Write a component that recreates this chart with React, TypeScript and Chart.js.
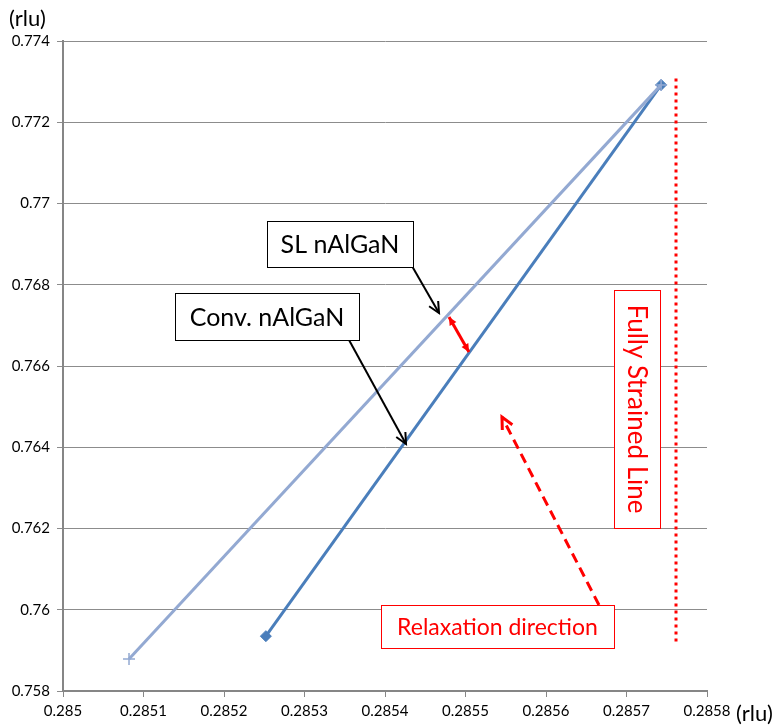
import React, { useEffect, useRef } from "react";
import { Chart, registerables } from "chart.js";

Chart.register(...registerables);

// ---- data ----
const xTickLabels = ["0.285", "0.2851", "0.2852", "0.2853", "0.2854", "0.2855", "0.2856", "0.2857", "0.2858"];
const yTickLabels = ["0.758", "0.76", "0.762", "0.764", "0.766", "0.768", "0.77", "0.772", "0.774"];

const slX = [0.285082, 0.285743];
const slY = [0.75879, 0.77292];

const convX = [0.285252, 0.285743];
const convY = [0.75935, 0.77292];

const strainedX = [0.2857615, 0.2857615];
const strainedY = [0.77308, 0.75913];

const X_MIN = 0.285;
const X_MAX = 0.2858;
const Y_MIN = 0.758;
const Y_MAX = 0.774;

const FONT = "Lato, 'Open Sans', sans-serif";

function toPts(xs: number[], ys: number[]) {
  return xs.map((x, i) => ({ x, y: ys[i] }));
}

function arrowHead(ctx: CanvasRenderingContext2D, x1: number, y1: number, x2: number, y2: number, size: number, filled: boolean) {
  const a = Math.atan2(y2 - y1, x2 - x1);
  const sp = Math.PI / 7;
  ctx.beginPath();
  ctx.moveTo(x2 - size * Math.cos(a - sp), y2 - size * Math.sin(a - sp));
  ctx.lineTo(x2, y2);
  ctx.lineTo(x2 - size * Math.cos(a + sp), y2 - size * Math.sin(a + sp));
  if (filled) {
    ctx.closePath();
    ctx.fill();
  } else {
    ctx.stroke();
  }
}

const annotationPlugin = {
  id: "annot",
  afterDraw(chart: any) {
    const ctx: CanvasRenderingContext2D = chart.ctx;
    const xs = chart.scales.x;
    const ys = chart.scales.y;
    const P = (x: number, y: number) => [xs.getPixelForValue(x), ys.getPixelForValue(y)];
    ctx.save();

    // axis unit labels
    ctx.fillStyle = "#000";
    ctx.font = `22px ${FONT}`;
    ctx.textBaseline = "alphabetic";
    ctx.textAlign = "left";
    ctx.fillText("(rlu)", 9, 26);
    ctx.fillText("(rlu)", 736, 721);

    const box = (l: number, t: number, w: number, h: number, text: string, color: string, fontSize: number) => {
      ctx.fillStyle = "#fff";
      ctx.fillRect(l, t, w, h);
      ctx.strokeStyle = color;
      ctx.lineWidth = 1;
      ctx.setLineDash([]);
      ctx.strokeRect(l + 0.5, t + 0.5, w, h);
      ctx.fillStyle = color;
      ctx.font = `${fontSize}px ${FONT}`;
      ctx.textAlign = "center";
      ctx.textBaseline = "middle";
      ctx.fillText(text, l + w / 2, t + h / 2 + 1);
    };

    // black arrows
    ctx.strokeStyle = "#000";
    ctx.fillStyle = "#000";
    ctx.lineWidth = 2;
    ctx.setLineDash([]);
    {
      const [a1, b1] = P(0.2854335, 0.768462);
      const [a2, b2] = P(0.2854671, 0.767305);
      ctx.beginPath();
      ctx.moveTo(a1, b1);
      ctx.lineTo(a2, b2);
      ctx.stroke();
      arrowHead(ctx, a1, b1, a2, b2, 12, false);
    }
    {
      const [a1, b1] = P(0.2853553, 0.76664);
      const [a2, b2] = P(0.2854261, 0.76408);
      ctx.beginPath();
      ctx.moveTo(a1, b1);
      ctx.lineTo(a2, b2);
      ctx.stroke();
      arrowHead(ctx, a1, b1, a2, b2, 12, false);
    }

    box(267, 221, 146, 46, "SL nAlGaN", "#000", 25);
    box(175, 293, 184, 47, "Conv. nAlGaN", "#000", 25);

    // red double arrow
    ctx.strokeStyle = "#ff0000";
    ctx.fillStyle = "#ff0000";
    ctx.lineWidth = 3;
    {
      const [a1, b1] = P(0.2854795, 0.767206);
      const [a2, b2] = P(0.2855043, 0.766345);
      ctx.beginPath();
      ctx.moveTo(a1, b1);
      ctx.lineTo(a2, b2);
      ctx.stroke();
      arrowHead(ctx, a1, b1, a2, b2, 9, true);
      arrowHead(ctx, a2, b2, a1, b1, 9, true);
    }

    // red dashed arrow
    {
      const [a1, b1] = P(0.2856658, 0.760117);
      const [a2, b2] = P(0.2855453, 0.764745);
      ctx.lineWidth = 3;
      ctx.setLineDash([10, 6]);
      ctx.beginPath();
      ctx.moveTo(a1, b1);
      ctx.lineTo(a2, b2);
      ctx.stroke();
      ctx.setLineDash([]);
      arrowHead(ctx, a1, b1, a2, b2, 13, false);
    }

    box(381, 605, 233, 43, "Relaxation direction", "#ff0000", 23);

    // Fully Strained Line (rotated)
    {
      const l = 614, t = 290, w = 46, h = 238;
      ctx.fillStyle = "#fff";
      ctx.fillRect(l, t, w, h);
      ctx.strokeStyle = "#ff0000";
      ctx.lineWidth = 1;
      ctx.strokeRect(l + 0.5, t + 0.5, w, h);
      ctx.save();
      ctx.translate(l + w / 2, t + h / 2);
      ctx.rotate(Math.PI / 2);
      ctx.fillStyle = "#ff0000";
      ctx.font = `26px ${FONT}`;
      ctx.textAlign = "center";
      ctx.textBaseline = "middle";
      ctx.fillText("Fully Strained Line", 0, 1);
      ctx.restore();
    }

    ctx.restore();
  },
};

export default function App() {
  const ref = useRef<HTMLCanvasElement | null>(null);

  useEffect(() => {
    if (!ref.current) return;
    const chart = new Chart(ref.current, {
      type: "scatter",
      data: {
        datasets: [
          {
            label: "SL nAlGaN",
            data: toPts(slX, slY),
            showLine: true,
            borderColor: "#93a9d2",
            backgroundColor: "#93a9d2",
            borderWidth: 3,
            pointStyle: "cross",
            pointRadius: 6,
            pointBorderWidth: 1.5,
          },
          {
            label: "Conv. nAlGaN",
            data: toPts(convX, convY),
            showLine: true,
            borderColor: "#4a7ebb",
            backgroundColor: "#4a7ebb",
            borderWidth: 3,
            pointStyle: "rectRot",
            pointRadius: 5.5,
            pointBorderWidth: 1,
          },
          {
            label: "Fully Strained",
            data: toPts(strainedX, strainedY),
            showLine: true,
            borderColor: "#ff0000",
            borderWidth: 3,
            borderDash: [3, 4],
            borderCapStyle: "butt",
            pointRadius: 0,
          },
        ],
      },
      options: {
        animation: false,
        responsive: false,
        events: [],
        layout: { padding: { top: 41, right: 70, left: 0, bottom: 0 } },
        plugins: { legend: { display: false }, tooltip: { enabled: false } },
        scales: {
          x: {
            type: "linear",
            min: X_MIN,
            max: X_MAX,
            afterFit: (s: any) => {
              s.height = 36;
            },
            afterBuildTicks: (s: any) => {
              s.ticks = xTickLabels.map((l) => ({ value: parseFloat(l) }));
            },
            ticks: {
              callback: (_v: any, i: number) => xTickLabels[i],
              color: "#000",
              font: { family: FONT, size: 15 },
              padding: 5,
              maxRotation: 0,
              autoSkip: false,
            },
            grid: { drawOnChartArea: false, drawTicks: true, tickLength: 6, color: "#868686", lineWidth: 1 },
            border: { color: "#868686", width: 2 },
          },
          y: {
            type: "linear",
            min: Y_MIN,
            max: Y_MAX,
            afterFit: (s: any) => {
              s.width = 63;
            },
            afterBuildTicks: (s: any) => {
              s.ticks = yTickLabels.map((l) => ({ value: parseFloat(l) }));
            },
            ticks: {
              callback: (_v: any, i: number) => yTickLabels[i],
              color: "#000",
              font: { family: FONT, size: 15 },
              padding: 7,
              autoSkip: false,
            },
            grid: { drawTicks: true, tickLength: 6, color: "#8c8c8c", lineWidth: 1 },
            border: { color: "#868686", width: 2 },
          },
        },
      },
      plugins: [annotationPlugin],
    } as any);
    return () => chart.destroy();
  }, []);

  return (
    <div style={{ position: "fixed", left: 0, top: 0, width: 777, height: 727, background: "#fff" }}>
      <canvas ref={ref} width={777} height={727} style={{ display: "block" }} />
    </div>
  );
}
